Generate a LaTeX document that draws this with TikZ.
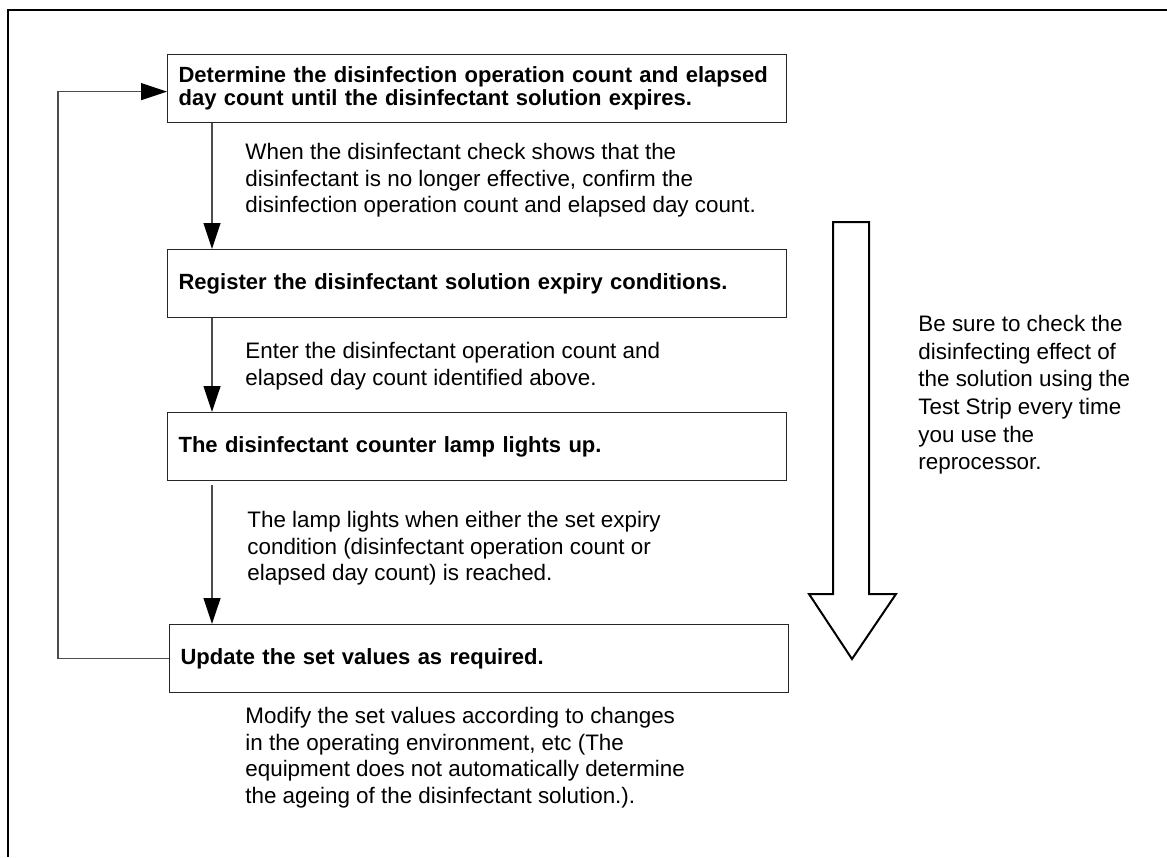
\documentclass[tikz,border=0pt]{standalone}
\usepackage{fontspec}
\setmainfont{Liberation Sans}
\usetikzlibrary{arrows.meta,positioning,calc}
\tikzset{
  box/.style={draw=black!85,line width=0.6pt,anchor=north west,
              text width=298.5pt,align=left,inner xsep=5.5pt,inner ysep=0pt,
              minimum height=34pt,font=\bfseries\fontsize{11}{11.5}\selectfont},
  lbl/.style={anchor=north west,inner sep=0pt,align=left,
              font=\fontsize{11.2}{13.3}\selectfont},
  fl/.style={-{Triangle[length=13pt,width=8.5pt,color=black]},line width=0.6pt,
             draw=black!70},
}

\begin{document}
\begin{tikzpicture}[x=0.5pt, y=-0.5pt]
  \useasboundingbox (0,0) rectangle (1167,857);
  \draw[line width=0.7pt] (1167,10) -- (8,10) -- (8,857);
  \node[box] (s1) at (167,54)
    {Determine the disinfection operation count and elapsed\\
     day count until the disinfectant solution expires.};
  \node[box] (s2) at (167,249) {Register the disinfectant solution expiry conditions.};
  \node[box] (s3) at (167,412) {The disinfectant counter lamp lights up.};
  \node[box] (s4) at (169,624) {Update the set values as required.};
  \draw[fl] ([xshift=22.5pt]s1.south west) -- ([xshift=22.5pt]s2.north west);
  \draw[fl] ([xshift=22.5pt]s2.south west) -- ([xshift=22.5pt]s3.north west);
  \draw[fl] ([xshift=22.5pt,yshift=-2pt]s3.south west) -- ([xshift=21.5pt]s4.north west);
  \coordinate (back) at (58,659);
  \draw[fl] (s4.west) -- (s4.west -| back) |- ([yshift=-1.5pt]s1.west);
  \node[lbl] (t1) at (245,143)
    {When the disinfectant check shows that the\\
     disinfectant is no longer effective, confirm the\\
     disinfection operation count and elapsed day count.};
  \node[lbl] (t2) at (245,342)
    {Enter the disinfectant operation count and\\
     elapsed day count identified above.};
  \node[lbl] (t3) at (247,511)
    {The lamp lights when either the set expiry\\
     condition (disinfectant operation count or\\
     elapsed day count) is reached.};
  \node[lbl] (t4) at (245,707)
    {Modify the set values according to changes\\
     in the operating environment, etc (The\\
     equipment does not automatically determine\\
     the ageing of the disinfectant solution.).};
  % hollow arrow down the right side
  \draw[line width=1pt] (833,222) -- (869,222) -- (869,594) -- (896,594)
    -- (852,659) -- (809,594) -- (833,594) -- cycle;
  \node[lbl,font=\fontsize{11.2}{13.8}\selectfont] (note) at (918,315)
    {Be sure to check the\\
     disinfecting effect of\\
     the solution using the\\
     Test Strip every time\\
     you use the\\
     reprocessor.};
\end{tikzpicture}
\end{document}
